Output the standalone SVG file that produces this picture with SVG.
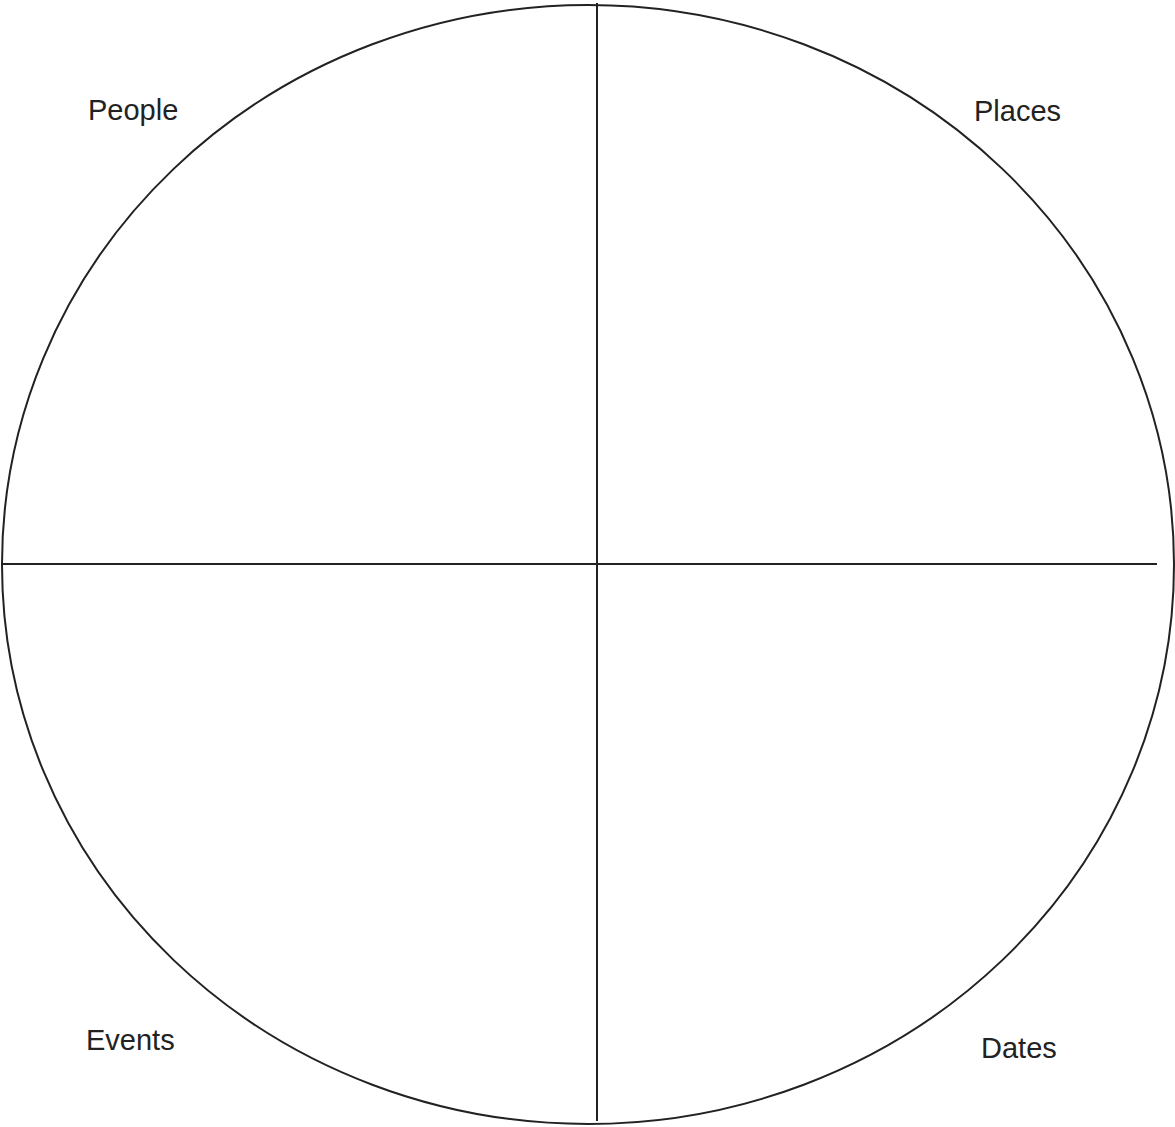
<svg xmlns="http://www.w3.org/2000/svg" width="1175" height="1127" viewBox="0 0 1175 1127">
<style>
.ln{stroke:#222;stroke-width:2;fill:none}
.lb{font-family:"Liberation Sans",Arial,sans-serif;font-size:29px;fill:#222}
</style>
<rect width="1175" height="1127" fill="#fff"/>
<g id="circle"><ellipse class="ln" cx="588" cy="564.5" rx="586" ry="559.5"/></g>
<g id="connectors">
<line class="ln" x1="597" y1="3" x2="597" y2="1121"/>
<line class="ln" x1="2" y1="564" x2="1157" y2="564"/>
</g>
<g id="people"><text class="lb" x="88" y="120">People</text></g>
<g id="places"><text class="lb" x="974" y="121">Places</text></g>
<g id="events"><text class="lb" x="86" y="1050">Events</text></g>
<g id="dates"><text class="lb" x="981" y="1058">Dates</text></g>
</svg>
